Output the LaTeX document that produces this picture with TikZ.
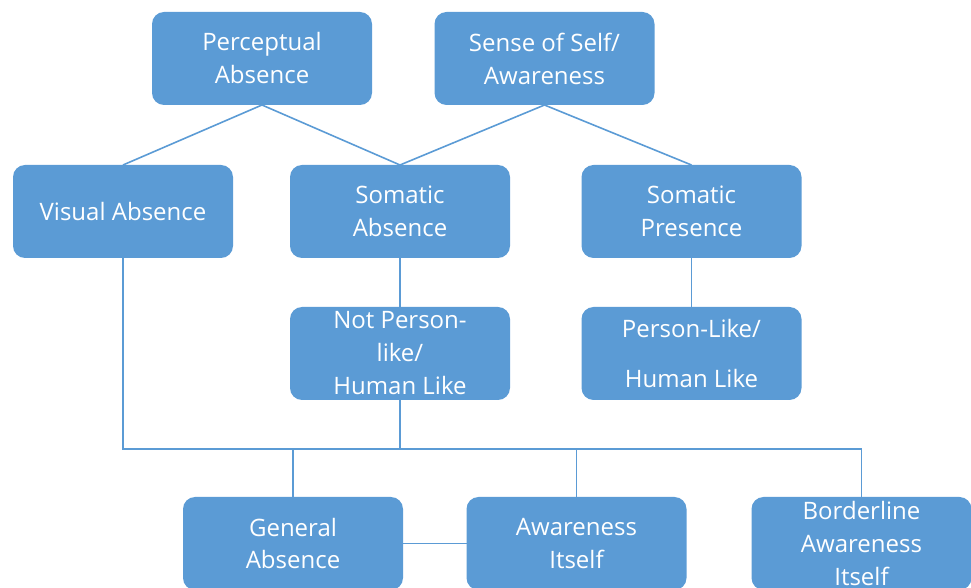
\documentclass[tikz,border=0pt]{standalone}
\usepackage{fontspec}
\setmainfont{Open Sans}
\definecolor{boxblue}{HTML}{5B9BD5}

\begin{document}
\begin{tikzpicture}[x=.5pt, y=-.5pt,
  box/.style={rectangle, rounded corners=6pt, fill=boxblue, text=white,
    minimum width=110pt, minimum height=46.5pt, inner sep=0pt, outer sep=0pt,
    align=center, font=\fontsize{12}{16.5}\selectfont},
  link/.style={draw=boxblue, line width=.8pt}]
  \useasboundingbox (0,0) rectangle (971,588);
  \clip (0,0) rectangle (971,588);
  \node[box] (perc) at (262,58.5) {Perceptual\\Absence};
  \node[box] (self) at (544.5,58.5) {Sense of Self/\\Awareness};
  \node[box] (vis) at (123,211.5) {Visual Absence};
  \node[box] (soma) at (400,211.5) {Somatic\\Absence};
  \node[box] (somp) at (691.5,211.5) {Somatic\\Presence};
  \node[box] (notp) at (400,353.5) {Not Person-\\like/\\Human Like};
  \node[box] (pers) at (691.5,353.5) {Person-Like/\\[8.5pt]Human Like};
  \node[box] (gen) at (293,543.5) {General\\Absence};
  \node[box] (awa) at (576.5,543.5) {Awareness\\Itself};
  \node[box] (bord) at (861.5,543.5) {Borderline\\Awareness\\Itself};
  \coordinate (bus) at (0,449);
  \draw[link] (perc.south) -- (vis.north);
  \draw[link] (perc.south) -- (soma.north);
  \draw[link] (self.south) -- (soma.north);
  \draw[link] (self.south) -- (somp.north);
  \draw[link] (soma) -- (notp);
  \draw[link] (somp) -- (pers);
  \draw[link] (vis.south) -- (vis.south |- bus) -- (bord.north |- bus) -- (bord.north);
  \draw[link] (notp.south) -- (notp.south |- bus);
  \draw[link] (gen.north |- bus) -- (gen.north);
  \draw[link] (awa.north |- bus) -- (awa.north);
  \draw[link] (gen) -- (awa);
\end{tikzpicture}
\end{document}
